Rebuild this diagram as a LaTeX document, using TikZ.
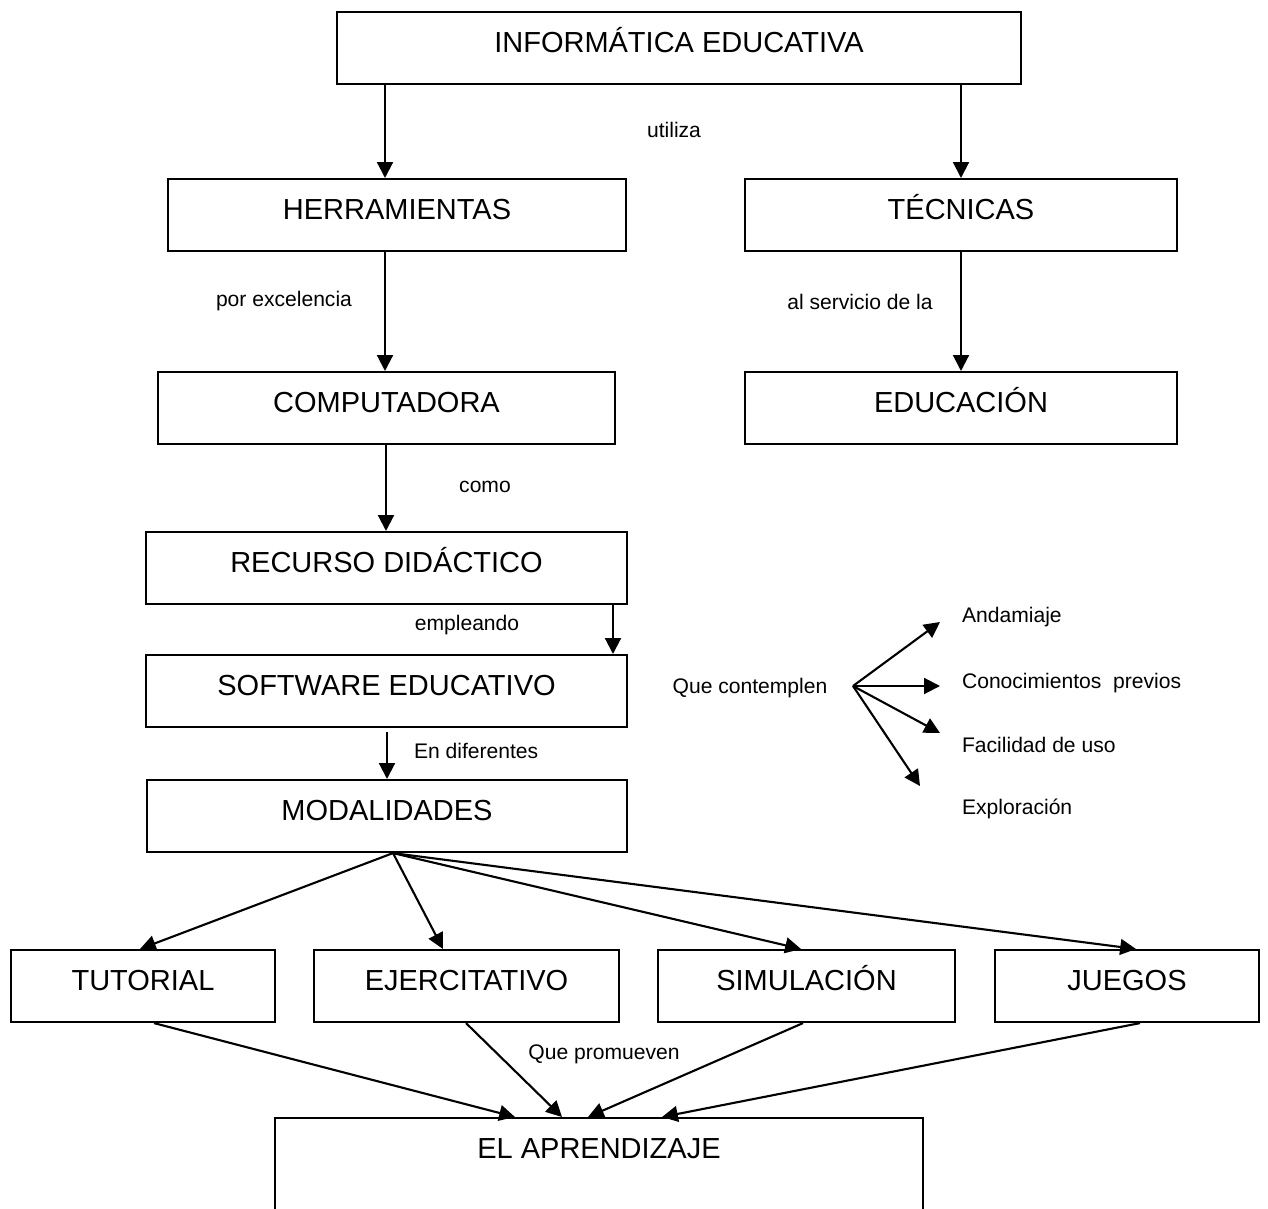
\documentclass[tikz,border=0pt]{standalone}
\usepackage{fontspec}
\setmainfont{Liberation Sans}
\usepackage{tikz}
\usetikzlibrary{arrows.meta}

\begin{document}
\begin{tikzpicture}[x=0.02cm, y=-0.02cm, line width=1.2pt,
  box/.style={draw, anchor=north, inner ysep=0pt, minimum width=#1*0.02cm,
    text height=0.8cm, text depth=0.64cm, font=\fontsize{16.5}{20}\selectfont},
  lbl/.style={font=\fontsize{12}{14}\selectfont},
  arr/.style={-{Triangle[length=9pt,width=9pt]}}]

  % page frame, the last box runs off the bottom
  \useasboundingbox (0,0) rectangle (1268,1209);
  \clip (0,0) rectangle (1268,1209);

  % boxes
  \node[box=684] (info) at (679,11) {INFORMÁTICA EDUCATIVA};
  \node[box=458] (herr) at (397,178) {HERRAMIENTAS};
  \node[box=432] (tec) at (961,178) {TÉCNICAS};
  \node[box=457] (comp) at (386.5,371) {COMPUTADORA};
  \node[box=432] (edu) at (961,371) {EDUCACIÓN};
  \node[box=481] (rec) at (386.5,531) {RECURSO DIDÁCTICO};
  \node[box=481] (soft) at (386.5,654) {SOFTWARE EDUCATIVO};
  \node[box=480] (mod) at (387,779) {MODALIDADES};
  \node[box=264] (tut) at (143,949) {TUTORIAL};
  \node[box=305] (ejer) at (466.5,949) {EJERCITATIVO};
  \node[box=297] (sim) at (806.5,949) {SIMULACIÓN};
  \node[box=264] (jue) at (1127,949) {JUEGOS};
  \node[box=648, text depth=4cm] (apr) at (599,1117) {EL APRENDIZAJE};

  % linking words
  \node[lbl] (utiliza) at (674,130) {utiliza};
  \node[lbl] (porexc) at (284,301) {por excelencia};
  \node[lbl] (alserv) at (860,302) {al servicio de la};
  \node[lbl] (como) at (485,487) {como};
  \node[lbl] (empleando) at (467,625) {empleando};
  \node[lbl, anchor=west, inner sep=0pt] (endif) at (413,751) {En diferentes};
  \node[lbl] (qpromueven) at (604,1054) {Que promueven};
  \node[lbl] (qcontemplen) at (750,688) {Que contemplen};

  % what the software should contemplate
  \node[lbl, anchor=west, inner sep=0pt] (anda) at (961,617) {Andamiaje};
  \node[lbl, anchor=west, inner sep=0pt] (conoc) at (961,683) {Conocimientos~ previos};
  \node[lbl, anchor=west, inner sep=0pt] (facil) at (961,745) {Facilidad de uso};
  \node[lbl, anchor=west, inner sep=0pt] (explo) at (961,809) {Exploración};
  \coordinate (qcfan) at (853,686);

  % main chain
  \draw[arr] (info.south -| 385,0) -- (herr.north -| 385,0);
  \draw[arr] (info.south -| 961,0) -- (tec.north -| 961,0);
  \draw[arr] (herr.south -| 385,0) -- (comp.north -| 385,0);
  \draw[arr] (tec.south -| 961,0) -- (edu.north -| 961,0);
  \draw[arr] (comp.south -| 386,0) -- (rec.north -| 386,0);
  \draw[arr] (rec.south -| 613,0) -- (soft.north -| 613,0);
  \draw[arr, shorten <=2.3pt] (soft.south -| 387,0) -- (mod.north -| 387,0);

  % modalidades
  \draw[arr] (mod.south -| 393,0) -- (tut.north -| 140,0);
  \draw[arr] (mod.south -| 393,0) -- (ejer.north -| 443,0);
  \draw[arr] (mod.south -| 393,0) -- (sim.north -| 801,0);
  \draw[arr] (mod.south -| 393,0) -- (jue.north -| 1136,0);

  % towards el aprendizaje
  \draw[arr] (tut.south -| 154,0) -- (apr.north -| 515,0);
  \draw[arr] (ejer.south -| 466,0) -- (apr.north -| 562,0);
  \draw[arr] (sim.south -| 803,0) -- (apr.north -| 588,0);
  \draw[arr] (jue.south -| 1140,0) -- (apr.north -| 662,0);

  % fan
  \draw[arr] (qcfan) -- ([shift={(-21,5)}]anda.west);
  \draw[arr] (qcfan) -- ([shift={(-21,3)}]conoc.west);
  \draw[arr] (qcfan) -- ([shift={(-21,-12)}]facil.west);
  \draw[arr] (qcfan) -- ([shift={(-41,-23)}]explo.west);
\end{tikzpicture}
\end{document}
